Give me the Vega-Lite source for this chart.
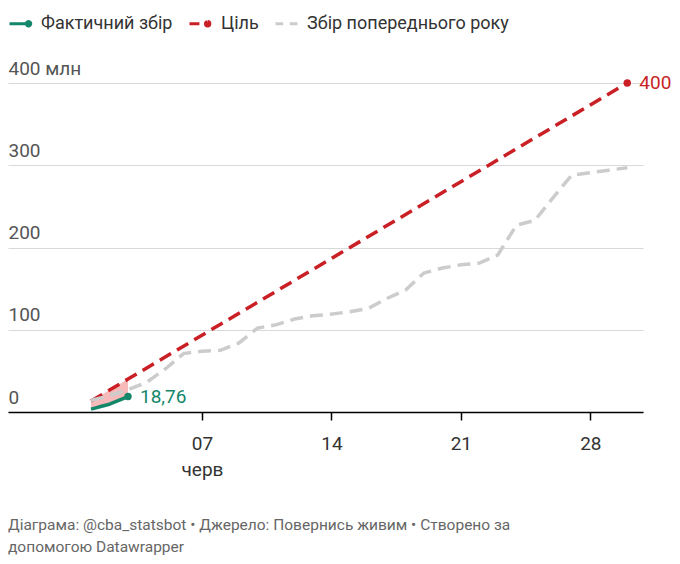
{
  "$schema": "https://vega.github.io/schema/vega-lite/v6.json",
  "width": 635,
  "height": 329,
  "autosize": {"type": "none"},
  "padding": {"left": 8, "top": 83, "right": 37, "bottom": 152},
  "config": {
    "font": "Roboto",
    "view": {"stroke": null},
    "locale": {
      "number": {"decimal": ",", "thousands": " ", "grouping": [3], "currency": ["", " грн"]}
    }
  },
  "title": {
    "text": [
      "Діаграма: @cba_statsbot • Джерело: Повернись живим • Створено за",
      "допомогою Datawrapper"
    ],
    "orient": "bottom",
    "anchor": "start",
    "frame": "group",
    "fontSize": 15.5,
    "fontWeight": "normal",
    "color": "#666666",
    "lineHeight": 22,
    "offset": 39
  },
  "datasets": {
    "series": [
      {"day": 1, "series": "Фактичний збір", "value": 3.5},
      {"day": 2, "series": "Фактичний збір", "value": 9.5},
      {"day": 3, "series": "Фактичний збір", "value": 18.76},
      {"day": 1, "series": "Ціль", "value": 13.33},
      {"day": 2, "series": "Ціль", "value": 26.67},
      {"day": 3, "series": "Ціль", "value": 40},
      {"day": 30, "series": "Ціль", "value": 400},
      {"day": 1, "series": "Збір попереднього року", "value": 14},
      {"day": 2, "series": "Збір попереднього року", "value": 20},
      {"day": 3, "series": "Збір попереднього року", "value": 27},
      {"day": 4, "series": "Збір попереднього року", "value": 36},
      {"day": 5, "series": "Збір попереднього року", "value": 52},
      {"day": 6, "series": "Збір попереднього року", "value": 71},
      {"day": 7, "series": "Збір попереднього року", "value": 74},
      {"day": 8, "series": "Збір попереднього року", "value": 75},
      {"day": 9, "series": "Збір попереднього року", "value": 84},
      {"day": 10, "series": "Збір попереднього року", "value": 102},
      {"day": 11, "series": "Збір попереднього року", "value": 106},
      {"day": 12, "series": "Збір попереднього року", "value": 113},
      {"day": 13, "series": "Збір попереднього року", "value": 117},
      {"day": 14, "series": "Збір попереднього року", "value": 119},
      {"day": 15, "series": "Збір попереднього року", "value": 122},
      {"day": 16, "series": "Збір попереднього року", "value": 126},
      {"day": 17, "series": "Збір попереднього року", "value": 138},
      {"day": 18, "series": "Збір попереднього року", "value": 148},
      {"day": 19, "series": "Збір попереднього року", "value": 169},
      {"day": 20, "series": "Збір попереднього року", "value": 175},
      {"day": 21, "series": "Збір попереднього року", "value": 179},
      {"day": 22, "series": "Збір попереднього року", "value": 181},
      {"day": 23, "series": "Збір попереднього року", "value": 191},
      {"day": 24, "series": "Збір попереднього року", "value": 227},
      {"day": 25, "series": "Збір попереднього року", "value": 233},
      {"day": 26, "series": "Збір попереднього року", "value": 261},
      {"day": 27, "series": "Збір попереднього року", "value": 288},
      {"day": 28, "series": "Збір попереднього року", "value": 291},
      {"day": 29, "series": "Збір попереднього року", "value": 294},
      {"day": 30, "series": "Збір попереднього року", "value": 297}
    ]
  },
  "data": {"name": "series"},
  "encoding": {
    "x": {
      "field": "day",
      "type": "quantitative",
      "scale": {"domain": [-3.49, 30.85], "nice": false, "zero": false},
      "axis": {
        "values": [7, 14, 21, 28],
        "title": null,
        "grid": false,
        "domainColor": "#000000",
        "domainWidth": 1.5,
        "tickColor": "#000000",
        "tickWidth": 1.5,
        "tickSize": 8,
        "labelFontSize": 19,
        "labelColor": "#333333",
        "labelPadding": 14,
        "labelLineHeight": 26,
        "labelExpr": "datum.value == 7 ? ['07', 'черв'] : datum.label",
        "zindex": 1
      }
    },
    "y": {
      "field": "value",
      "type": "quantitative",
      "scale": {"domain": [0, 400], "nice": false},
      "axis": {
        "values": [0, 100, 200, 300, 400],
        "title": null,
        "domain": false,
        "ticks": false,
        "tickSize": 0,
        "grid": true,
        "gridColor": "#d9d9d9",
        "gridWidth": 1,
        "labelAlign": "left",
        "labelBaseline": "alphabetic",
        "labelPadding": 0,
        "labelOffset": -9,
        "labelFontSize": 19,
        "labelColor": "#555555",
        "labelExpr": "datum.value == 400 ? '400 млн' : datum.label"
      }
    }
  },
  "layer": [
    {
      "transform": [
        {"filter": "datum.day <= 3 && datum.series != 'Збір попереднього року'"},
        {"pivot": "series", "value": "value", "groupby": ["day"]}
      ],
      "mark": {"type": "area", "color": "#f5b3b3", "opacity": 0.9},
      "encoding": {
        "y": {"field": "Фактичний збір", "type": "quantitative"},
        "y2": {"field": "Ціль"}
      }
    },
    {
      "mark": {"type": "line", "strokeWidth": 3.5, "strokeCap": "butt"},
      "encoding": {
        "color": {
          "field": "series",
          "type": "nominal",
          "sort": null,
          "scale": {
            "domain": ["Фактичний збір", "Ціль", "Збір попереднього року"],
            "range": ["#14876b", "#c91f25", "#cccccc"]
          },
          "legend": {
            "orient": "none",
            "legendX": 0,
            "legendY": -72,
            "direction": "horizontal",
            "title": null,
            "padding": 0,
            "labelFontSize": 18,
            "labelColor": "#333333",
            "labelLimit": 400,
            "symbolSize": 484,
            "symbolStrokeWidth": 3,
            "symbolType": "stroke",
            "labelOffset": 8,
            "columnPadding": 10,
            "encode": {
              "symbols": {
                "update": {
                  "shape": {"signal": "datum.value === 'Фактичний збір' ? 'M-1,0L0.73,0M0.73,-0.2A0.2,0.2,0,1,1,0.73,0.2A0.2,0.2,0,1,1,0.73,-0.2' : datum.value === 'Ціль' ? 'M-1,0L-0.1,0M0.65,-0.2A0.2,0.2,0,1,1,0.65,0.2A0.2,0.2,0,1,1,0.65,-0.2' : 'M-1,0L-0.3,0M0.3,0L1,0'"},
                  "fill": {"signal": "datum.value === 'Фактичний збір' ? '#14876b' : datum.value === 'Ціль' ? '#c91f25' : 'transparent'"},
                  "strokeDash": {"value": []}
                }
              }
            }
          }
        },
        "strokeDash": {
          "field": "series",
          "type": "nominal",
          "scale": {
            "domain": ["Фактичний збір", "Ціль", "Збір попереднього року"],
            "range": [[1, 0], [13, 7], [13, 7]]
          },
          "legend": null
        },
        "order": {"field": "day", "type": "quantitative"}
      }
    },
    {
      "transform": [
        {"filter": "(datum.series == 'Фактичний збір' && datum.day == 3) || (datum.series == 'Ціль' && datum.day == 30)"}
      ],
      "mark": {"type": "circle", "size": 55, "opacity": 1},
      "encoding": {
        "color": {
          "condition": {"test": "datum.series == 'Ціль'", "value": "#c91f25"},
          "value": "#14876b"
        }
      }
    },
    {
      "transform": [
        {"filter": "(datum.series == 'Фактичний збір' && datum.day == 3) || (datum.series == 'Ціль' && datum.day == 30)"}
      ],
      "mark": {"type": "text", "align": "left", "baseline": "middle", "dx": 12, "fontSize": 19},
      "encoding": {
        "text": {"field": "value", "type": "quantitative", "format": ".2~f"},
        "color": {
          "condition": {"test": "datum.series == 'Ціль'", "value": "#c91f25"},
          "value": "#14876b"
        }
      }
    }
  ]
}
